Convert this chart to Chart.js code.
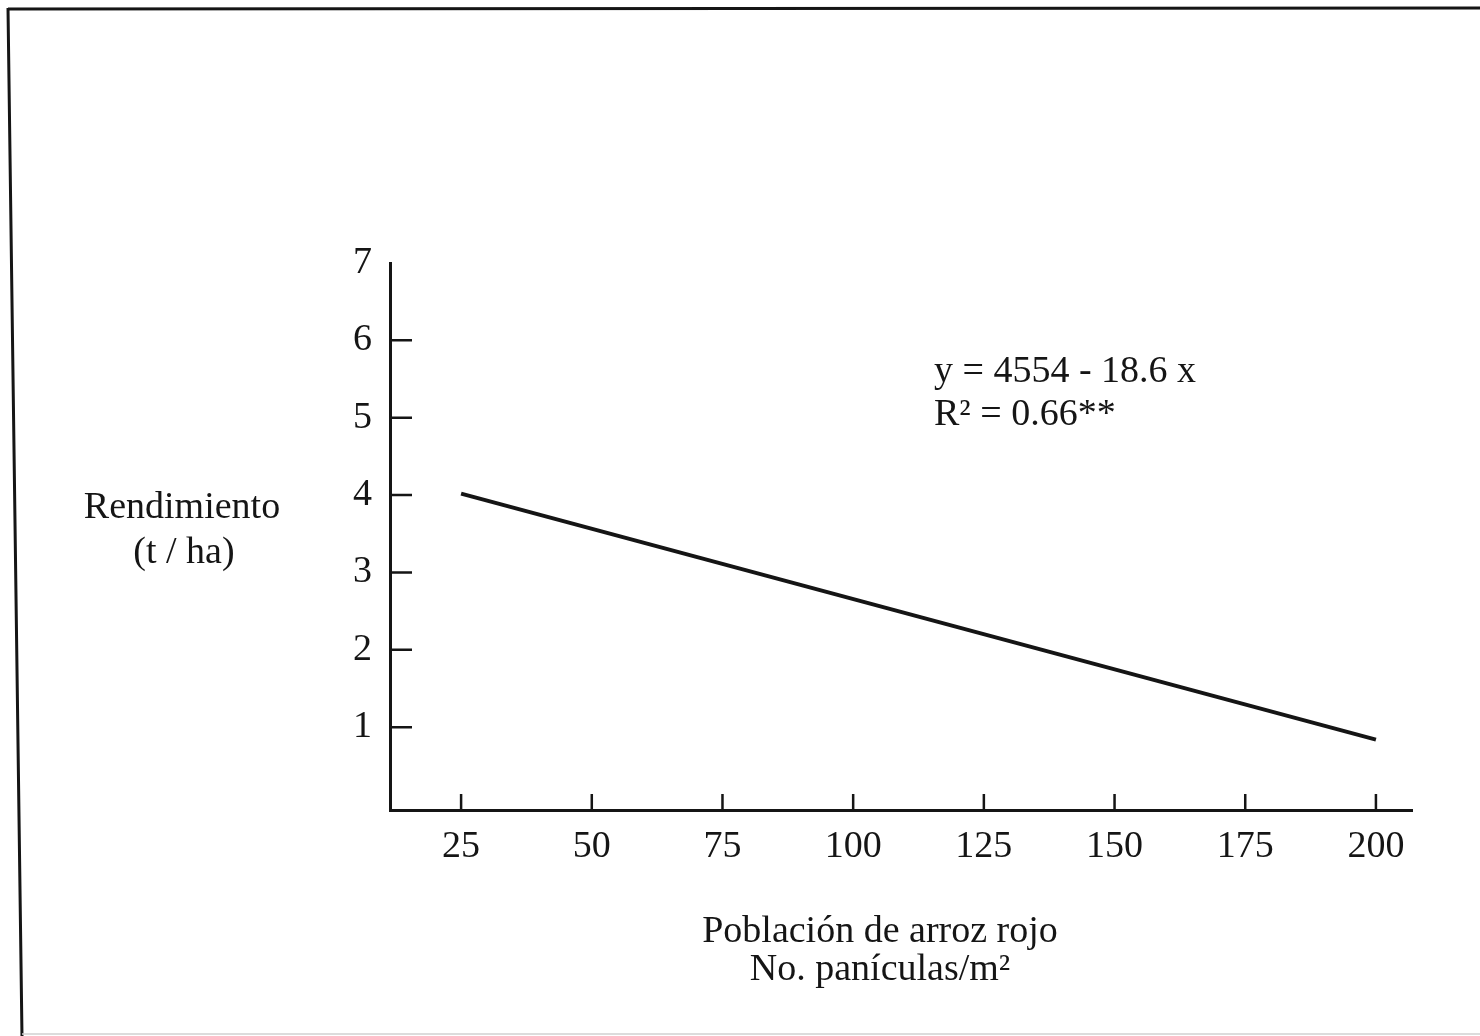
<!DOCTYPE html>
<html>
<head>
<meta charset="utf-8">
<script src="https://cdn.jsdelivr.net/npm/chart.js@4"></script>
<style>
html,body{margin:0;padding:0;background:#fff;}
#wrap{width:1480px;height:1036px;}
</style>
</head>
<body>
<div id="wrap"><canvas id="c" width="1480" height="1036"></canvas></div>
<script>
// ---- data ----
const xValues = [25, 200];
const yValues = [4.02, 0.84];
const xTicks = [25, 50, 75, 100, 125, 150, 175, 200];
const yTicks = [1, 2, 3, 4, 5, 6, 7];
const yTitle = ['Rendimiento', '(t / ha)'];
const xTitle = ['Población de arroz rojo', 'No. panículas/m²'];
const equation = ['y = 4554 - 18.6 x', 'R² = 0.66**'];

const FONT = '"Liberation Serif", "DejaVu Serif", serif';
const INK = '#151515';

const decor = {
  id: 'decor',
  beforeDraw(chart) {
    const ctx = chart.ctx;
    ctx.save();
    ctx.fillStyle = '#fff';
    ctx.fillRect(0, 0, chart.width, chart.height);
    ctx.restore();
  },
  afterDraw(chart) {
    const ctx = chart.ctx;
    const xs = chart.scales.x, ys = chart.scales.y;
    const a = chart.chartArea;
    ctx.save();
    // frame (scanned page border)
    ctx.strokeStyle = INK;
    ctx.lineWidth = 3;
    ctx.beginPath();
    ctx.moveTo(8, 9); ctx.lineTo(1480, 8);
    ctx.moveTo(8, 8); ctx.lineTo(22, 1036);
    ctx.stroke();
    ctx.strokeStyle = '#d0d0d0';
    ctx.lineWidth = 1.5;
    ctx.beginPath();
    ctx.moveTo(22, 1034); ctx.lineTo(1480, 1034);
    ctx.stroke();
    // inward tick marks
    ctx.strokeStyle = INK;
    ctx.lineWidth = 2.5;
    ctx.beginPath();
    yTicks.forEach(v => {
      if (v === ys.max) return;
      const py = ys.getPixelForValue(v);
      ctx.moveTo(a.left, py); ctx.lineTo(a.left + 22, py);
    });
    xTicks.forEach(v => {
      const px = xs.getPixelForValue(v);
      ctx.moveTo(px, a.bottom); ctx.lineTo(px, a.bottom - 16);
    });
    ctx.stroke();
    // texts
    ctx.fillStyle = INK;
    ctx.font = '38px ' + FONT;
    ctx.textBaseline = 'middle';
    ctx.textAlign = 'center';
    ctx.fillText(yTitle[0], 182, 508);
    ctx.fillText(yTitle[1], 184, 553);
    ctx.fillText(xTitle[0], 880, 932);
    ctx.fillText(xTitle[1], 880, 970);
    ctx.textAlign = 'left';
    ctx.fillText(equation[0], 934, 372);
    ctx.fillText(equation[1], 934, 415);
    ctx.restore();
  }
};

new Chart(document.getElementById('c'), {
  type: 'scatter',
  data: {
    datasets: [{
      data: xValues.map((x, i) => ({x: x, y: yValues[i]})),
      showLine: true,
      borderColor: INK,
      borderWidth: 4,
      pointRadius: 0,
      fill: false
    }]
  },
  options: {
    responsive: false,
    animation: false,
    devicePixelRatio: 1,
    layout: { padding: { left: 330, right: 68, top: 263, bottom: 166 } },
    plugins: { legend: { display: false }, tooltip: { enabled: false } },
    scales: {
      x: {
        type: 'linear',
        min: 11.4,
        max: 206.9,
        afterFit: s => { s.height = 60; },
        afterBuildTicks: s => { s.ticks = xTicks.map(v => ({value: v})); },
        grid: { display: true, drawOnChartArea: false, drawTicks: false },
        border: { display: true, color: INK, width: 3 },
        ticks: { color: INK, padding: 14, font: { family: FONT, size: 38 }, maxRotation: 0, autoSkip: false }
      },
      y: {
        type: 'linear',
        min: -0.07,
        max: 7,
        afterFit: s => { s.width = 60; },
        afterBuildTicks: s => { s.ticks = yTicks.map(v => ({value: v})); },
        grid: { display: true, drawOnChartArea: false, drawTicks: false },
        border: { display: true, color: INK, width: 3 },
        ticks: { color: INK, padding: 18, font: { family: FONT, size: 38 }, autoSkip: false }
      }
    }
  },
  plugins: [decor]
});
</script>
</body>
</html>
